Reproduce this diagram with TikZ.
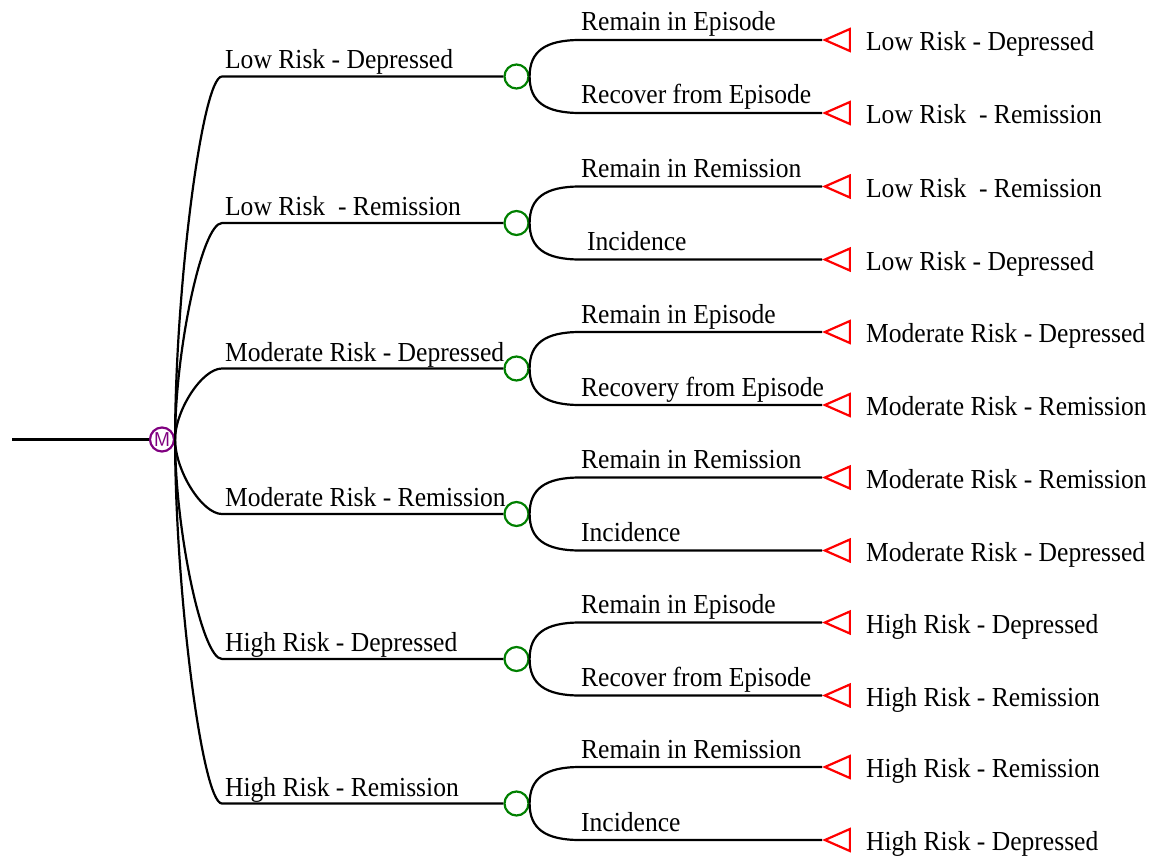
\documentclass[tikz,border=0pt]{standalone}
\usepackage{fontspec}
\setmainfont{Liberation Serif}[FakeStretch=0.93]
\usetikzlibrary{shapes.geometric}
\definecolor{mkpurple}{RGB}{128,0,128}
\definecolor{chgreen}{RGB}{0,128,0}

\begin{document}
\begin{tikzpicture}[x=1pt,y=-1pt,line width=2.2pt,
  font=\fontsize{27.5}{30}\selectfont,
  markov/.style={circle,draw=mkpurple,text=mkpurple,minimum size=24pt,inner sep=0pt,font=\fontsize{20}{20}\sffamily},
  chance/.style={circle,draw=chgreen,minimum size=24pt,inner sep=0pt},
  term/.style={isosceles triangle,shape border rotate=180,isosceles triangle stretches,
    minimum width=22pt,minimum height=25pt,inner sep=0pt,draw=red,anchor=apex},
  lab/.style={anchor=base west,inner sep=0pt}]
 % \draw[help lines] (0,0) grid (1150,856);
  \useasboundingbox (0,0) rectangle (1150,856);

  % markov node
  \coordinate (r0) at (12,439.5);
  \node[markov] (m0) at (162,439.5) {M};
  \draw (r0) -- (m0);

  % chance nodes
  \node[chance] (c1) at (516.5,76.5) {};
  \node[chance] (c2) at (516.5,223) {};
  \node[chance] (c3) at (516.5,368.5) {};
  \node[chance] (c4) at (516.5,514) {};
  \node[chance] (c5) at (516.5,659) {};
  \node[chance] (c6) at (516.5,803.5) {};

  \coordinate (b1) at (222,76.5);
  \coordinate (b2) at (222,223);
  \coordinate (b3) at (222,368.5);
  \coordinate (b4) at (222,514);
  \coordinate (b5) at (222,659);
  \coordinate (b6) at (222,803.5);

  \draw (m0.east) .. controls +(0,-149) and +(-20,0) .. (b1) -- (c1);
  \draw (m0.east) .. controls +(0,-89) and +(-20,0) .. (b2) -- (c2);
  \draw (m0.east) .. controls +(0,-29) and +(-20,0) .. (b3) -- (c3);
  \draw (m0.east) .. controls +(0,31) and +(-20,0) .. (b4) -- (c4);
  \draw (m0.east) .. controls +(0,90) and +(-20,0) .. (b5) -- (c5);
  \draw (m0.east) .. controls +(0,149) and +(-20,0) .. (b6) -- (c6);

  \node[lab] (l1) at (224,69) {Low Risk - Depressed};
  \node[lab] (l2) at (224,215.5) {Low Risk~ - Remission};
  \node[lab] (l3) at (224,361) {Moderate Risk - Depressed};
  \node[lab] (l4) at (224,506.5) {Moderate Risk - Remission};
  \node[lab] (l5) at (224,651.5) {High Risk - Depressed};
  \node[lab] (l6) at (224,796) {High Risk - Remission};

  % terminal nodes
  \node[term] (t1) at (822,40) {};
  \node[term] (t2) at (822,113) {};
  \node[term] (t3) at (822,186.5) {};
  \node[term] (t4) at (822,259.5) {};
  \node[term] (t5) at (822,332) {};
  \node[term] (t6) at (822,405) {};
  \node[term] (t7) at (822,477.5) {};
  \node[term] (t8) at (822,550.5) {};
  \node[term] (t9) at (822,622.5) {};
  \node[term] (t10) at (822,695.5) {};
  \node[term] (t11) at (822,767) {};
  \node[term] (t12) at (822,840) {};

  \coordinate (s1) at (580,40);
  \coordinate (s2) at (580,113);
  \coordinate (s3) at (580,186.5);
  \coordinate (s4) at (580,259.5);
  \coordinate (s5) at (580,332);
  \coordinate (s6) at (580,405);
  \coordinate (s7) at (580,477.5);
  \coordinate (s8) at (580,550.5);
  \coordinate (s9) at (580,622.5);
  \coordinate (s10) at (580,695.5);
  \coordinate (s11) at (580,767);
  \coordinate (s12) at (580,840);

  \draw (c1.east) .. controls +(0,-25) and +(-35,0) .. (s1) -- (t1);
  \draw (c1.east) .. controls +(0,25) and +(-35,0) .. (s2) -- (t2);
  \draw (c2.east) .. controls +(0,-25) and +(-35,0) .. (s3) -- (t3);
  \draw (c2.east) .. controls +(0,25) and +(-35,0) .. (s4) -- (t4);
  \draw (c3.east) .. controls +(0,-25) and +(-35,0) .. (s5) -- (t5);
  \draw (c3.east) .. controls +(0,25) and +(-35,0) .. (s6) -- (t6);
  \draw (c4.east) .. controls +(0,-25) and +(-35,0) .. (s7) -- (t7);
  \draw (c4.east) .. controls +(0,25) and +(-35,0) .. (s8) -- (t8);
  \draw (c5.east) .. controls +(0,-25) and +(-35,0) .. (s9) -- (t9);
  \draw (c5.east) .. controls +(0,25) and +(-35,0) .. (s10) -- (t10);
  \draw (c6.east) .. controls +(0,-25) and +(-35,0) .. (s11) -- (t11);
  \draw (c6.east) .. controls +(0,25) and +(-35,0) .. (s12) -- (t12);

  \node[lab] (e1) at (580,31) {Remain in Episode};
  \node[lab] (e2) at (580,104) {Recover from Episode};
  \node[lab] (e3) at (580,177.5) {Remain in Remission};
  \node[lab] (e4) at (586,250.5) {Incidence};
  \node[lab] (e5) at (580,323) {Remain in Episode};
  \node[lab] (e6) at (580,396) {Recovery from Episode};
  \node[lab] (e7) at (580,468.5) {Remain in Remission};
  \node[lab] (e8) at (580,541.5) {Incidence};
  \node[lab] (e9) at (580,613.5) {Remain in Episode};
  \node[lab] (e10) at (580,686.5) {Recover from Episode};
  \node[lab] (e11) at (580,758) {Remain in Remission};
  \node[lab] (e12) at (580,831) {Incidence};

  \node[lab] (o1) at (865,50.5) {Low Risk - Depressed};
  \node[lab] (o2) at (865,123.5) {Low Risk~ - Remission};
  \node[lab] (o3) at (865,197) {Low Risk~ - Remission};
  \node[lab] (o4) at (865,270) {Low Risk - Depressed};
  \node[lab] (o5) at (865,342.5) {Moderate Risk - Depressed};
  \node[lab] (o6) at (865,415.5) {Moderate Risk - Remission};
  \node[lab] (o7) at (865,488) {Moderate Risk - Remission};
  \node[lab] (o8) at (865,561) {Moderate Risk - Depressed};
  \node[lab] (o9) at (865,633) {High Risk - Depressed};
  \node[lab] (o10) at (865,706) {High Risk - Remission};
  \node[lab] (o11) at (865,777.5) {High Risk - Remission};
  \node[lab] (o12) at (865,850.5) {High Risk - Depressed};
\end{tikzpicture}
\end{document}
